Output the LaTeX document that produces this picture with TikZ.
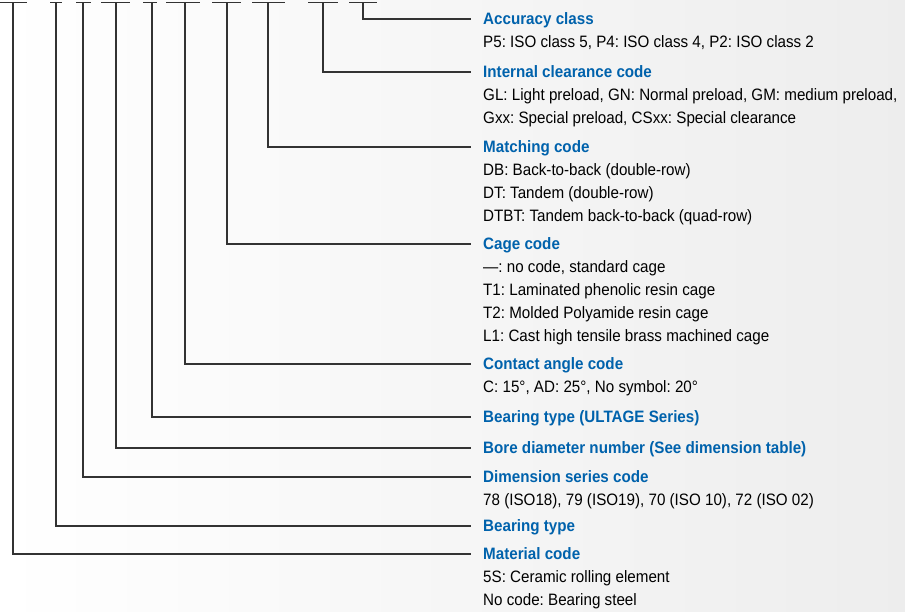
\documentclass[tikz,border=0pt]{standalone}
\usepackage{fontspec}
\setmainfont{Liberation Sans}[FakeStretch=0.92]
\usetikzlibrary{positioning}
\definecolor{headblue}{RGB}{0,98,172}
\definecolor{leadgray}{RGB}{51,51,51}
\frenchspacing

\begin{document}
\begin{tikzpicture}[x=1pt, y=-1pt,
  lead/.style={draw=leadgray, line width=1.4pt},
  txt/.style={inner sep=0pt, text height=17.2pt, text depth=5.3pt,
    font=\fontsize{16.5}{20}\selectfont},
  head/.style={txt, anchor=west, text=headblue,
    font=\fontsize{16.5}{20}\selectfont\bfseries},
  desc/.style={txt, below right=0pt and 0pt of #1}]
  \useasboundingbox (0,0) rectangle (905,612);
  \fill[left color=white, right color=black!7] (0,0) rectangle (905,612);

  % the code positions along the top
  \foreach \x/\l/\r/\n in {13/0/27/1, 56/50/62/2, 83/76/91/3, 116/101/130/4,
      152/143/157/5, 185/166/200/6, 227/212/241/7, 268/252/285/8,
      323/308/338/9, 363/349/377/10} {
    \coordinate (t\n) at (\x,2.5);
    \draw[lead] (\l,2.5) -- (\r,2.5);
  }

  \node[head] (acc) at (483,19) {Accuracy class};
    \node[desc=acc.south west] (acc-1) {P5: ISO class 5, P4: ISO class 4, P2: ISO class 2};
  \node[head] (clear) at (483,72) {Internal clearance code};
    \node[desc=clear.south west] (clear-1) {GL: Light preload, GN: Normal preload, GM: medium preload,};
    \node[desc=clear-1.south west] (clear-2) {Gxx: Special preload, CSxx: Special clearance};
  \node[head] (match) at (483,147) {Matching code};
    \node[desc=match.south west] (match-1) {DB: Back-to-back (double-row)};
    \node[desc=match-1.south west] (match-2) {DT: Tandem (double-row)};
    \node[desc=match-2.south west] (match-3) {DTBT: Tandem back-to-back (quad-row)};
  \node[head] (cage) at (483,244) {Cage code};
    \node[desc=cage.south west] (cage-1) {---: no code, standard cage};
    \node[desc=cage-1.south west] (cage-2) {T1: Laminated phenolic resin cage};
    \node[desc=cage-2.south west] (cage-3) {T2: Molded Polyamide resin cage};
    \node[desc=cage-3.south west] (cage-4) {L1: Cast high tensile brass machined cage};
  \node[head] (cont) at (483,364) {Contact angle code};
    \node[desc=cont.south west] (cont-1) {C: 15°, AD: 25°, No symbol: 20°};
  \node[head] (ult) at (483,417) {Bearing type (ULTAGE Series)};
  \node[head] (bore) at (483,448) {Bore diameter number (See dimension table)};
  \node[head] (dim) at (483,477) {Dimension series code};
    \node[desc=dim.south west] (dim-1) {78 (ISO18), 79 (ISO19), 70 (ISO 10), 72 (ISO 02)};
  \node[head] (btype) at (483,526) {Bearing type};
  \node[head] (mat) at (483,554) {Material code};
    \node[desc=mat.south west] (mat-1) {5S: Ceramic rolling element};
    \node[desc=mat-1.south west] (mat-2) {No code: Bearing steel};

  \foreach \n/\h in {1/mat, 2/btype, 3/dim, 4/bore, 5/ult, 6/cont,
      7/cage, 8/match, 9/clear, 10/acc}
    \draw[lead] (t\n) |- ([xshift=-12pt]\h.west);
\end{tikzpicture}
\end{document}
